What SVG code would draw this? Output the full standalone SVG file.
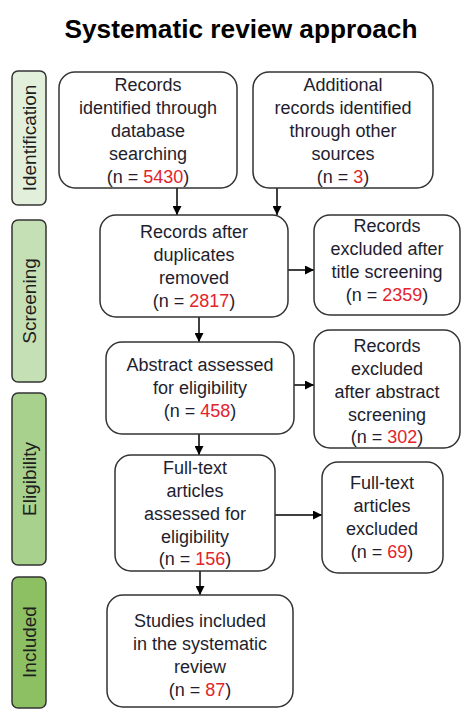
<svg xmlns="http://www.w3.org/2000/svg" width="461" height="711" viewBox="0 0 461 711">
<defs>
<marker id="ah" viewBox="0 0 10 10" refX="10" refY="5" markerWidth="9" markerHeight="9" markerUnits="userSpaceOnUse" orient="auto">
<path d="M0,0 L10,5 L0,10 z" fill="#000"/>
</marker>
<style>
.box{fill:#fff;stroke:#333;stroke-width:1.5}
.side{stroke:#333;stroke-width:1.5}
.t{font-family:"Liberation Sans",Arial,sans-serif;font-size:18px;fill:#1e1e2e;text-anchor:middle}
.s{font-family:"Liberation Sans",Arial,sans-serif;font-size:19px;fill:#1e1e1e;text-anchor:middle}
.n{fill:#e3232c}
.c{stroke:#000;stroke-width:1.5;fill:none;marker-end:url(#ah)}
</style>
</defs>
<rect width="461" height="711" fill="#fff"/>
<text x="241" y="38" font-family="'Liberation Sans',Arial,sans-serif" font-size="25" font-weight="bold" text-anchor="middle" fill="#000" textLength="353" lengthAdjust="spacingAndGlyphs">Systematic review approach</text>

<g id="stage-identification">
<rect class="side" x="12" y="71" width="34" height="134" rx="6" fill="#e2efda"/>
<text class="s" transform="translate(35.5,138) rotate(-90)">Identification</text>
</g>
<g id="stage-screening">
<rect class="side" x="12" y="220" width="34" height="162" rx="6" fill="#c5e0b4"/>
<text class="s" transform="translate(35.5,301) rotate(-90)">Screening</text>
</g>
<g id="stage-eligibility">
<rect class="side" x="12" y="393" width="34" height="172" rx="6" fill="#a9d18e"/>
<text class="s" transform="translate(35.5,479) rotate(-90)">Eligibility</text>
</g>
<g id="stage-included">
<rect class="side" x="12" y="577" width="34" height="131" rx="6" fill="#8cc063"/>
<text class="s" transform="translate(35.5,642) rotate(-90)">Included</text>
</g>

<g id="connectors">
<line class="c" x1="177" y1="188" x2="177" y2="215"/>
<line class="c" x1="277" y1="188" x2="277" y2="215"/>
<line class="c" x1="288" y1="270" x2="314" y2="270"/>
<line class="c" x1="199" y1="317" x2="199" y2="342"/>
<line class="c" x1="294" y1="385" x2="314" y2="385"/>
<line class="c" x1="199" y1="434" x2="199" y2="455"/>
<line class="c" x1="275" y1="515" x2="322" y2="515"/>
<line class="c" x1="200" y1="571" x2="200" y2="595"/>
</g>

<g id="database">
<rect class="box" x="59" y="72" width="178" height="116" rx="16"/>
<text class="t" x="148" y="91">Records</text>
<text class="t" x="148" y="114">identified through</text>
<text class="t" x="148" y="137">database</text>
<text class="t" x="148" y="160">searching</text>
<text class="t" x="148" y="183">(n = <tspan class="n">5430</tspan>)</text>
</g>
<g id="other-sources">
<rect class="box" x="253" y="72" width="180" height="116" rx="16"/>
<text class="t" x="343" y="91">Additional</text>
<text class="t" x="343" y="114">records identified</text>
<text class="t" x="343" y="137">through other</text>
<text class="t" x="343" y="160">sources</text>
<text class="t" x="343" y="183">(n = <tspan class="n">3</tspan>)</text>
</g>
<g id="duplicates-removed">
<rect class="box" x="100" y="215" width="188" height="102" rx="16"/>
<text class="t" x="194" y="238">Records after</text>
<text class="t" x="194" y="261">duplicates</text>
<text class="t" x="194" y="284">removed</text>
<text class="t" x="194" y="307">(n = <tspan class="n">2817</tspan>)</text>
</g>
<g id="title-excluded">
<rect class="box" x="314" y="215" width="146" height="100" rx="16"/>
<text class="t" x="387" y="232">Records</text>
<text class="t" x="387" y="255">excluded after</text>
<text class="t" x="387" y="278">title screening</text>
<text class="t" x="387" y="301">(n = <tspan class="n">2359</tspan>)</text>
</g>
<g id="abstract-assessed">
<rect class="box" x="106" y="342" width="188" height="92" rx="16"/>
<text class="t" x="200" y="371">Abstract assessed</text>
<text class="t" x="200" y="394">for eligibility</text>
<text class="t" x="200" y="417">(n = <tspan class="n">458</tspan>)</text>
</g>
<g id="abstract-excluded">
<rect class="box" x="314" y="330" width="146" height="118" rx="16"/>
<text class="t" x="387" y="352">Records</text>
<text class="t" x="387" y="375">excluded</text>
<text class="t" x="387" y="398">after abstract</text>
<text class="t" x="387" y="421">screening</text>
<text class="t" x="387" y="443">(n = <tspan class="n">302</tspan>)</text>
</g>
<g id="fulltext-assessed">
<rect class="box" x="115" y="455" width="160" height="116" rx="16"/>
<text class="t" x="195" y="474">Full-text</text>
<text class="t" x="195" y="497">articles</text>
<text class="t" x="195" y="520">assessed for</text>
<text class="t" x="195" y="543">eligibility</text>
<text class="t" x="195" y="565">(n = <tspan class="n">156</tspan>)</text>
</g>
<g id="fulltext-excluded">
<rect class="box" x="322" y="462" width="121" height="111" rx="16"/>
<text class="t" x="382" y="489">Full-text</text>
<text class="t" x="382" y="512">articles</text>
<text class="t" x="382" y="535">excluded</text>
<text class="t" x="382" y="558">(n = <tspan class="n">69</tspan>)</text>
</g>
<g id="included">
<rect class="box" x="107" y="595" width="186" height="112" rx="16"/>
<text class="t" x="200" y="627">Studies included</text>
<text class="t" x="200" y="650">in the systematic</text>
<text class="t" x="200" y="673">review</text>
<text class="t" x="200" y="696">(n = <tspan class="n">87</tspan>)</text>
</g>
</svg>
